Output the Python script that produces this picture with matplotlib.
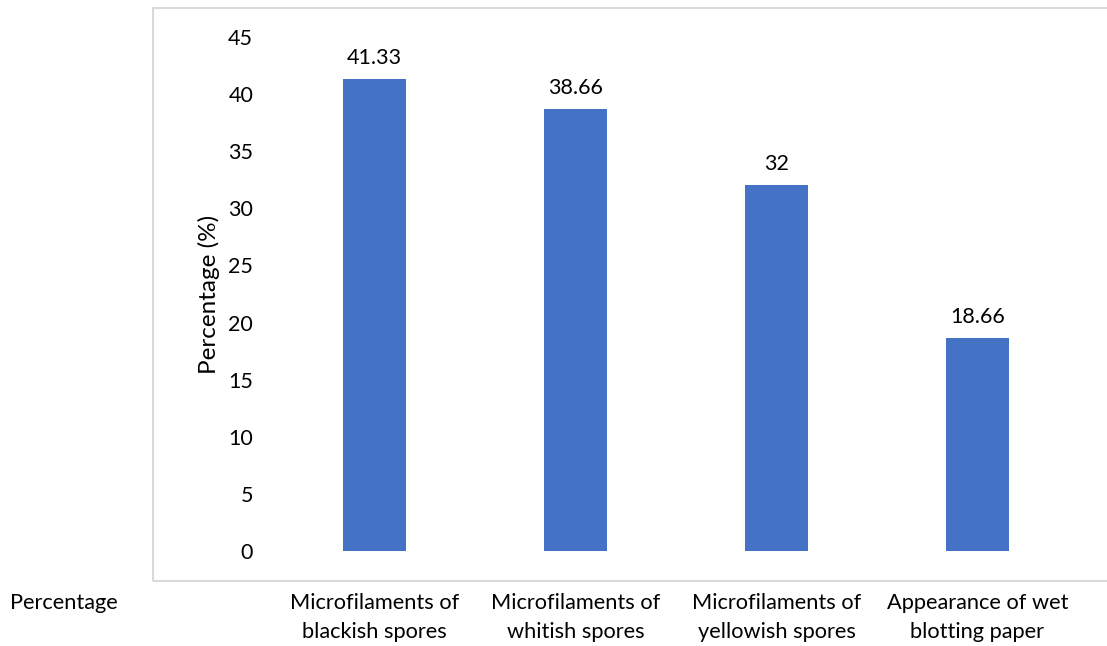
import matplotlib
matplotlib.use("Agg")
import matplotlib.pyplot as plt
from matplotlib.patches import Rectangle

categories = [
    "Microfilaments of\nblackish spores",
    "Microfilaments of\nwhitish spores",
    "Microfilaments of\nyellowish spores",
    "Appearance of wet\nblotting paper",
]
percentages = [41.33, 38.66, 32, 18.66]
value_labels = ["41.33", "38.66", "32", "18.66"]
y_ticks = [0, 5, 10, 15, 20, 25, 30, 35, 40, 45]

plt.rcParams["font.family"] = ["Lato", "DejaVu Sans"]

W, H = 1107, 646
fig = plt.figure(figsize=(W / 100, H / 100), dpi=100)

# outer chart frame (light gray border)
frame = Rectangle((153 / W, 1 - 581 / H), 1.0, (581 - 8) / H,
                  transform=fig.transFigure, fill=False,
                  edgecolor="#d9d9d9", linewidth=1.5, zorder=0)
fig.patches.append(frame)

ax = fig.add_axes([274 / W, (H - 551) / H, 804 / W, 514 / H])
ax.set_facecolor("none")
x = list(range(len(categories)))
bars = ax.bar(x, percentages, width=0.315, color="#4472C4")
ax.set_xlim(-0.5, 3.5)
ax.set_ylim(0, 45)
ax.set_yticks(y_ticks)
ax.set_yticklabels([str(t) for t in y_ticks], fontsize=15.5, color="#000000")
ax.tick_params(axis="y", length=0, pad=15)
ax.set_xticks([])
for s in ax.spines.values():
    s.set_visible(False)

for xi, v, lab in zip(x, percentages, value_labels):
    ax.annotate(lab, (xi, v), xytext=(0, 8), textcoords="offset points",
                ha="center", va="bottom", fontsize=15.5, color="#000000")

ax.set_ylabel("Percentage (%)", fontsize=17.5, color="#000000", labelpad=6)

# category labels below the frame
for xi, cat in zip(x, categories):
    xf = (274 + 201 * (xi + 0.5)) / W
    fig.text(xf, 1 - 593 / H, cat, ha="center", va="top", fontsize=15.7,
             linespacing=1.58, color="#000000")
fig.text(10 / W, 1 - 603 / H, "Percentage", ha="left", va="center",
         fontsize=15.7, color="#000000")

fig.savefig("out.png", dpi=100)
